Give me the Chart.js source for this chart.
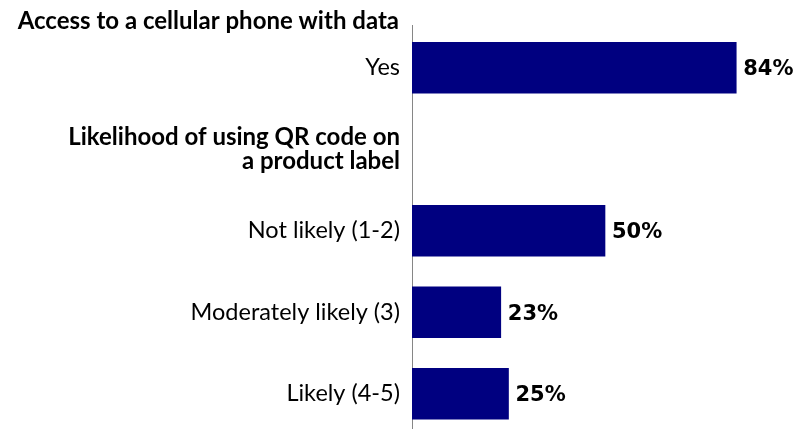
<!DOCTYPE html>
<html>
<head>
<meta charset="utf-8">
<script src="https://cdn.jsdelivr.net/npm/chart.js@4"></script>
<style>
  html, body { margin: 0; padding: 0; background: #fff; }
  #wrap { width: 800px; height: 429px; }
</style>
</head>
<body>
<div id="wrap"><canvas id="chart"></canvas></div>
<script>
// data
const sectionTitle = 'Access to a cellular phone with data'
const rowLabels = ['Yes', ['Likelihood of using QR code on', 'a product label'], 'Not likely (1-2)', 'Moderately likely (3)', 'Likely (4-5)']
const headerRows = [1]
const barLabels = ['Yes', 'Not likely (1-2)', 'Moderately likely (3)', 'Likely (4-5)']
const barValues = [84, 50, 23, 25]

const FONT = 'Lato'
const points = barLabels.map((label, i) => ({ x: barValues[i], y: rowLabels.indexOf(label) }))

// percent labels at the end of each bar
const valueLabels = {
  id: 'valueLabels',
  afterDatasetsDraw (chart) {
    const ctx = chart.ctx
    ctx.save()
    ctx.font = 'bold 21px "DejaVu Sans"'
    ctx.fillStyle = '#000'
    ctx.textAlign = 'left'
    ctx.textBaseline = 'middle'
    chart.getDatasetMeta(0).data.forEach((bar, i) => {
      ctx.fillText(barValues[i] + '%', bar.x + 7, bar.y + 2)
    })
    ctx.restore()
  }
}

// first section heading sits above the plot area
const sectionHeading = {
  id: 'sectionHeading',
  afterDraw (chart) {
    const y = chart.scales.y
    const ctx = chart.ctx
    ctx.save()
    ctx.font = 'bold 24px ' + FONT
    ctx.fillStyle = '#000'
    ctx.textAlign = 'right'
    ctx.textBaseline = 'middle'
    ctx.fillText(sectionTitle, y.right - 13, 21)
    ctx.restore()
  }
}

new Chart(document.getElementById('chart'), {
  type: 'bar',
  data: {
    datasets: [{
      data: points,
      backgroundColor: '#000080',
      borderWidth: 0,
      barThickness: 51
    }]
  },
  options: {
    indexAxis: 'y',
    responsive: true,
    maintainAspectRatio: false,
    animation: false,
    layout: { padding: { top: 25, right: 2, bottom: 0, left: 0 } },
    plugins: {
      legend: { display: false },
      tooltip: { enabled: false }
    },
    scales: {
      x: { type: 'linear', display: false, min: 0, max: 100 },
      y: {
        type: 'linear',
        reverse: true,
        bounds: 'data',
        offset: false,
        min: -0.524,
        max: 4.433,
        border: { display: true, color: '#868686', width: 1 },
        grid: { display: false, drawTicks: false, offset: false },
        afterBuildTicks: scale => { scale.ticks = rowLabels.map((_, i) => ({ value: i })) },
        afterFit: scale => {
          scale.width = 412
          scale.paddingTop = 0
          scale.paddingBottom = 0
        },
        ticks: {
          autoSkip: false,
          padding: 12,
          color: '#000',
          font: ctx => headerRows.includes(ctx.index)
            ? { family: FONT, size: 24, weight: 'bold', lineHeight: '24px' }
            : { family: FONT, size: 23.5, weight: 'normal', lineHeight: 1.1 },
          callback: value => rowLabels[value]
        }
      }
    }
  },
  plugins: [valueLabels, sectionHeading]
})
</script>
</body>
</html>
